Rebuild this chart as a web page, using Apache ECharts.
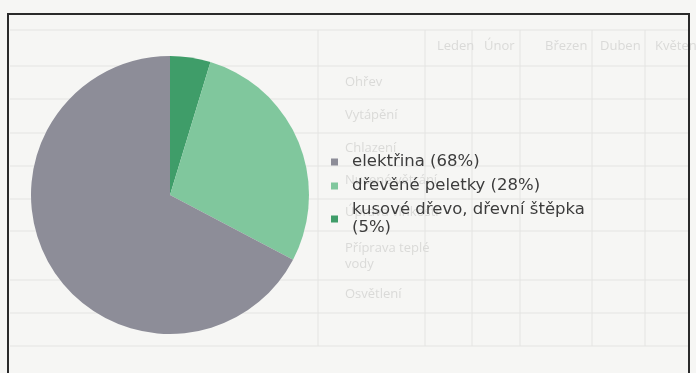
<!DOCTYPE html>
<html>
<head>
<meta charset="utf-8">
<script src="https://cdn.jsdelivr.net/npm/echarts@6/dist/echarts.min.js"></script>
<style>
html,body{margin:0;padding:0;background:#f6f6f4;}
#chart{width:696px;height:373px;}
</style>
</head>
<body>
<div id="chart"></div>
<script>
// Pie data (clockwise from 12 o'clock)
const sliceNames = ['kusové dřevo, dřevní štěpka\n(5%)', 'dřevěné peletky (28%)', 'elektřina (68%)'];
const sliceValues = [4.7, 28, 67.3];
const sliceColors = ['#3f9d69', '#80c79d', '#8d8d98'];
const legendOrder = ['elektřina (68%)', 'dřevěné peletky (28%)', 'kusové dřevo, dřevní štěpka\n(5%)'];

// faint background table (scanned page showing through)
const bgRowLabels = ['Ohřev', 'Vytápění', 'Chlazení', 'Nucené větrání', 'Úprava vlhkosti', 'Příprava teplé', 'vody', 'Osvětlení'];
const bgHeader = ['Leden', 'Únor', 'Březen', 'Duben', 'Květen'];

const chart = echarts.init(document.getElementById('chart'), null, {renderer: 'canvas'});

const faint = '#e4e4e2';
const faintText = '#dadad8';
const graphics = [];
[30, 66, 99, 133, 166, 199, 231, 280, 313, 346].forEach(y => {
  graphics.push({type: 'line', shape: {x1: 10, y1: y, x2: 688, y2: y}, style: {stroke: faint, lineWidth: 1}, z: -10, silent: true});
});
[318, 425, 472, 520, 592, 645].forEach(x => {
  graphics.push({type: 'line', shape: {x1: x, y1: 30, x2: x, y2: 346}, style: {stroke: faint, lineWidth: 1}, z: -10, silent: true});
});
const rowY = [84, 117, 150, 182, 214, 250, 266, 296];
bgRowLabels.forEach((t, i) => {
  graphics.push({type: 'text', left: 345, top: rowY[i] - 8, style: {text: t, fill: faintText, font: '13px "Open Sans"'}, z: -9, silent: true});
});
const hdrX = [437, 484, 545, 600, 655];
bgHeader.forEach((t, i) => {
  graphics.push({type: 'text', left: hdrX[i], top: 40, style: {text: t, fill: faintText, font: '13px "Open Sans"'}, z: -9, silent: true});
});
// frame
graphics.push({type: 'line', shape: {x1: 8, y1: 14, x2: 690, y2: 14}, style: {stroke: '#2a2a2a', lineWidth: 2}, z: 10, silent: true});
graphics.push({type: 'line', shape: {x1: 8, y1: 13, x2: 8, y2: 373}, style: {stroke: '#2a2a2a', lineWidth: 2}, z: 10, silent: true});
graphics.push({type: 'line', shape: {x1: 689, y1: 13, x2: 689, y2: 373}, style: {stroke: '#2a2a2a', lineWidth: 2}, z: 10, silent: true});

chart.setOption({
  backgroundColor: '#f6f6f4',
  animation: false,
  graphic: graphics,
  legend: {
    orient: 'vertical',
    left: 331,
    top: 153,
    padding: 0,
    data: legendOrder,
    icon: 'rect',
    itemWidth: 7,
    itemHeight: 7,
    itemGap: 6,
    textStyle: {
      fontFamily: '"DejaVu Sans", sans-serif',
      fontSize: 16.5,
      lineHeight: 18,
      color: '#3c3c3c',
      padding: [0, 0, 0, 9]
    }
  },
  series: [{
    type: 'pie',
    center: [170, 195],
    radius: 139,
    startAngle: 90,
    clockwise: true,
    label: {show: false},
    labelLine: {show: false},
    emphasis: {disabled: true},
    itemStyle: {borderWidth: 0},
    data: sliceNames.map((n, i) => ({name: n, value: sliceValues[i], itemStyle: {color: sliceColors[i]}}))
  }]
});
</script>
</body>
</html>
